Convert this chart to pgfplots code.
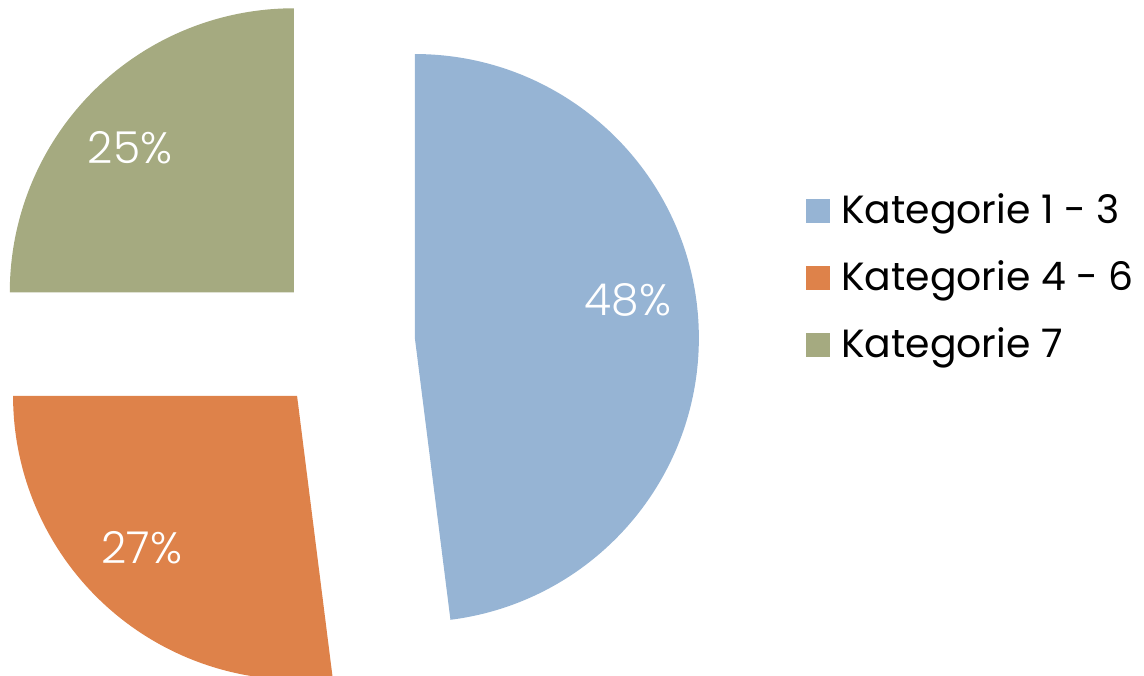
\documentclass[border=0pt]{standalone}
\usepackage{pgfplots}
\usepackage{pgfplotstable}
\pgfplotsset{compat=1.18}
\usepackage{fontspec}
\setmainfont{Poppins}
\newfontfamily\lightfont{Poppins Light}
\definecolor{slicecolor0}{RGB}{150,180,212}
\definecolor{slicecolor1}{RGB}{222,130,74}
\definecolor{slicecolor2}{RGB}{165,170,128}

\pgfplotstableread[col sep=comma]{
value,label,lx,ly
48,Kategorie 1 - 3,628,300
27,Kategorie 4 - 6,142,548
25,Kategorie 7,130,148
}\piedata

\begin{document}
\begin{tikzpicture}
\begin{axis}[
  width=858pt, height=506.25pt, scale only axis,
  xmin=0, xmax=1144, ymin=-675, ymax=0,
  hide axis, clip=false,
]
\path (axis cs:0,-675) rectangle (axis cs:1144,0);
\pgfplotsextra{
  \pgfplotstablegetrowsof{\piedata}
  \pgfmathtruncatemacro\N{\pgfplotsretval-1}
  \gdef\cum{0}
  \foreach \i in {0,...,\N}{
    \pgfplotstablegetelem{\i}{value}\of{\piedata}\let\v\pgfplotsretval
    \pgfplotstablegetelem{\i}{label}\of{\piedata}\let\lab\pgfplotsretval
    \pgfplotstablegetelem{\i}{lx}\of{\piedata}\let\lx\pgfplotsretval
    \pgfplotstablegetelem{\i}{ly}\of{\piedata}\let\ly\pgfplotsretval
    \pgfmathsetmacro\a{90-3.6*\cum}
    \pgfmathsetmacro\b{\a-3.6*\v}
    \pgfmathsetmacro\m{(\a+\b)/2}
    \pgfmathsetmacro\cx{344+71*cos(\m)}
    \pgfmathsetmacro\cy{-342.5+71*sin(\m)}
    \fill[overlay, slicecolor\i] (axis cs:\cx,\cy) -- ++(\a:213pt) arc[start angle=\a, end angle=\b, radius=213pt] -- cycle;
    \pgfmathsetmacro\nly{-\ly}
    \node[overlay, text=white, inner sep=0pt, font=\lightfont\fontsize{33}{38}\selectfont] at (axis cs:\lx,\nly) {\v\%};
    \pgfmathsetmacro\ya{-199-67*\i}
    \pgfmathsetmacro\yb{-223-67*\i}
    \pgfmathsetmacro\yc{-214-67*\i}
    \fill[overlay, slicecolor\i] (axis cs:806,\ya) rectangle (axis cs:830,\yb);
    \node[overlay, anchor=west, inner sep=0pt, font=\fontsize{29.5}{34}\selectfont] at (axis cs:841,\yc) {\lab};
    \pgfmathsetmacro\newcum{\cum+\v}
    \xdef\cum{\newcum}
  }
}
\end{axis}
\end{tikzpicture}
\end{document}
